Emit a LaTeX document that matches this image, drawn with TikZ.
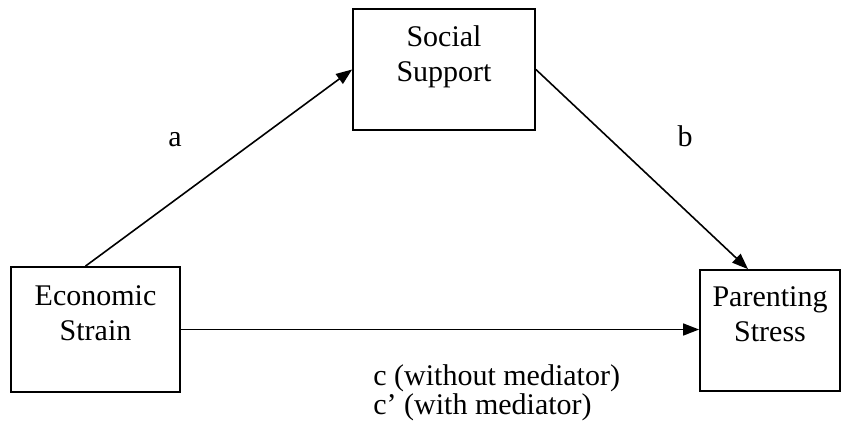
\documentclass[tikz,border=0pt]{standalone}
\usepackage{fontspec}
\setmainfont{Liberation Serif}
\usetikzlibrary{calc,positioning,arrows.meta}

\begin{document}
\begin{tikzpicture}[x=0.5pt, y=-0.5pt]
\tikzset{varbox/.style={draw,line width=0.9pt,inner sep=0,align=center,
  font=\fontsize{15}{17.5}\selectfont,text depth=16pt},
pathlabel/.style={font=\fontsize{15}{12}\selectfont,inner sep=0},
patharrow/.style={line width=0.8pt,-{Triangle[length=8pt,width=6pt]}}}

\useasboundingbox (0,0) rectangle (850,430);

\node (ss) [varbox,minimum width=91pt,minimum height=60.5pt] at (444, 69.5) {Social\\Support};
\node (es) [varbox,minimum width=84.5pt,minimum height=62.5pt] at (95.5, 329.5) {Economic\\Strain};
\node (ps) [varbox,minimum width=70pt,minimum height=60.5pt] at (770, 330.5) {Parenting\\Stress};

\node (la) [pathlabel,anchor=base] at (175, 146) {a};
\node (lb) [pathlabel,anchor=base] at (685, 146) {b};
\node (lc) [pathlabel,anchor=north west,align=left] at (373, 364) {c (without mediator)\\c’ (with mediator)};

%% Edges
\draw [patharrow] ([xshift=-5pt]es.north) -- (ss.west);
\draw [patharrow] (ss.east) -- ([xshift=-11pt]ps.north);
\draw [patharrow] (es.east) -- (es.east -| ps.west);

\end{tikzpicture}
\end{document}
